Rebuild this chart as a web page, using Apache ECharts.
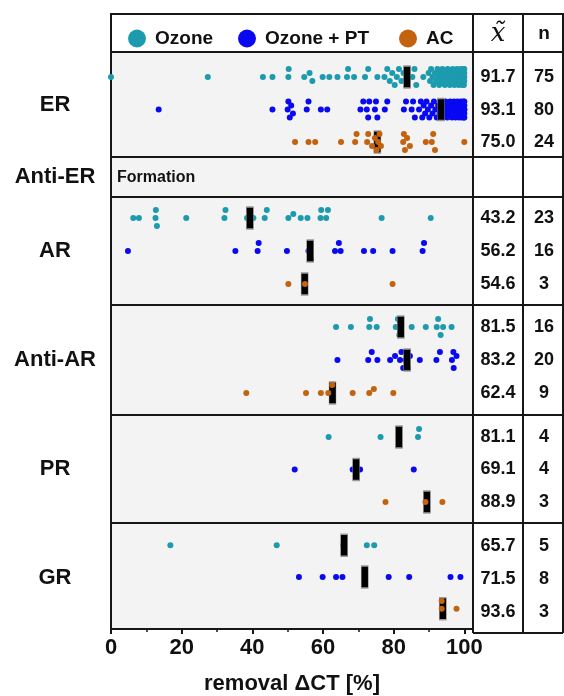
<!DOCTYPE html>
<html><head><meta charset="utf-8">
<script src="https://cdn.jsdelivr.net/npm/echarts@6/dist/echarts.min.js"></script>
<style>html,body{margin:0;padding:0;background:#fff}#c{width:564px;height:696px}</style>
</head><body><div id="c"></div><script>
const categories = ['ER', 'Anti-ER', 'AR', 'Anti-AR', 'PR', 'GR'];
const treatments = ['Ozone', 'Ozone + PT', 'AC'];
const xTicks = [0, 20, 40, 60, 80, 100];
const xMinorTicks = [10, 30, 50, 70, 90];

const er_ozone = [0, 27.4, 43.0, 45.7, 50.2, 50.3, 54.7, 56.2, 57.0, 59.9, 61.8, 64.1, 66.8, 67.1, 68.8, 71.9, 72.8, 75.4, 77.4, 78.2, 78.9, 79.6, 80.3, 80.9, 81.5, 82.2, 82.8, 85.3, 85.9, 86.4, 88.4,
  89.9, 90.3, 90.6, 91.0, 91.3, 91.7, 92.0, 92.4, 92.6, 92.9, 93.3, 93.6, 93.8, 94.1, 94.5, 94.7, 95.0, 95.3, 95.5, 95.9,
  96.2, 96.4, 96.7, 96.9, 97.2, 97.5, 97.7, 97.9, 98.2, 98.4, 98.6, 98.9, 99.0, 99.2, 99.4, 99.5, 99.6, 99.7, 99.8, 99.9, 100, 100, 100, 100];
const er_pt = [13.5, 45.7, 50.0, 50.2, 50.6, 51.0, 51.5, 55.4, 55.9, 59.4, 61.2, 70.6, 71.4, 72.4, 72.8, 73.1, 74.7, 75.0, 75.4, 77.5, 78.2, 82.9, 83.5, 85.1, 85.5, 86.0,
  87.2, 87.7, 88.1, 88.5, 88.9, 89.3, 89.7, 90.1, 90.6, 91.0, 91.4, 91.8, 92.2, 92.6, 93.0, 93.3, 93.6, 93.9, 94.2, 94.5,
  94.7, 95.0, 95.2, 95.5, 95.7, 96.0, 96.2, 96.5, 96.7, 96.9, 97.1, 97.3, 97.5, 97.7, 97.9, 98.1, 98.3, 98.5, 98.7, 98.9,
  99.0, 99.2, 99.3, 99.5, 99.6, 99.7, 99.8, 99.9, 100, 100, 100, 100, 100, 100];
const er_ac = [52.1, 55.9, 57.8, 65.1, 69.1, 69.5, 72.5, 72.8, 73.9, 74.7, 75.2, 75.6, 76.0, 76.4, 82.7, 82.9, 83.2, 83.8, 84.6, 89.1, 90.8, 91.2, 91.7, 100];
const ar_ozone = [6.3, 7.9, 12.6, 12.7, 13.0, 21.3, 32.1, 32.4, 38.5, 39.2, 40.3, 43.5, 44.1, 50.2, 51.6, 53.7, 55.6, 59.3, 59.5, 60.9, 61.4, 76.6, 90.5];
const ar_pt = [4.8, 35.2, 41.5, 41.8, 49.8, 55.9, 56.3, 56.6, 63.4, 64.5, 65.0, 71.6, 74.2, 79.7, 88.2, 88.6];
const ar_ac = [50.2, 54.9, 79.7];
const antiar_ozone = [63.7, 67.9, 73.1, 73.3, 75.2, 80.6, 81.2, 81.6, 82.0, 85.1, 89.1, 92.2, 92.6, 93.3, 94.0, 96.4];
const antiar_pt = [64.1, 72.8, 73.8, 75.4, 79.0, 80.4, 81.8, 82.2, 82.7, 83.4, 83.8, 84.0, 84.6, 87.4, 92.1, 93.1, 96.5, 96.9, 97.0, 97.8];
const antiar_ac = [38.3, 55.2, 59.4, 61.5, 62.6, 68.4, 73.1, 74.4, 79.9];
const pr_ozone = [61.6, 76.3, 86.9, 87.2];
const pr_pt = [52.0, 68.4, 70.5, 85.7];
const pr_ac = [77.7, 89.0, 93.8];
const gr_ozone = [16.8, 46.9, 65.7, 72.4, 74.5];
const gr_pt = [53.2, 59.9, 63.7, 65.5, 78.6, 84.4, 96.1, 98.9];
const gr_ac = [93.6, 93.6, 97.8];

const panelValues = [[er_ozone, er_pt, er_ac], null, [ar_ozone, ar_pt, ar_ac], [antiar_ozone, antiar_pt, antiar_ac], [pr_ozone, pr_pt, pr_ac], [gr_ozone, gr_pt, gr_ac]];
const medianBars = [[83.8, 93.4, 75.4], null, [39.3, 56.4, 54.8], [82.0, 83.8, 62.7], [81.5, 69.4, 89.4], [66.0, 71.8, 93.9]];
const medianLabels = [['91.7', '93.1', '75.0'], null, ['43.2', '56.2', '54.6'], ['81.5', '83.2', '62.4'], ['81.1', '69.1', '88.9'], ['65.7', '71.5', '93.6']];
const nLabels = [['75', '80', '24'], null, ['23', '16', '3'], ['16', '20', '9'], ['4', '4', '3'], ['5', '8', '3']];
const subLabels = [null, 'Formation', null, null, null, null];

// ---- layout / style ----
const colors = ['#1c9bae', '#0808f2', '#c3620f'];
const FONT = "'Liberation Sans', Arial, sans-serif";
const L = 111, R = 473, C1 = 523, C2 = 563, HEAD_TOP = 14, HEAD_BOT = 52, BOTTOM = 633;
const panelTops = [52, 157, 197, 305, 415, 523];
const yRanges = [[-0.77, 2.46], [-0.5, 0.5], [-0.64, 2.64], [-0.67, 2.67], [-0.68, 2.65], [-0.7, 2.64]];
const legendLefts = [123, 233, 394];
const XMAX = 100 * (R - L) / 353.3;
const pxPerX = (R - L) / XMAX;

function swarm(vals, pxPerY) {
  const d = 5.6, steps = [0, -4, 4, -8, 8];
  const placed = [];
  return vals.slice().sort((a, b) => a - b).map(v => {
    const px = v * pxPerX;
    let best = 0, bestD = -1;
    for (const s of steps) {
      let m = Infinity;
      for (const p of placed) m = Math.min(m, Math.hypot(p[0] - px, p[1] - s));
      if (m >= d) { best = s; bestD = m; break; }
      if (m > bestD) { bestD = m; best = s; }
    }
    placed.push([px, best]);
    return [v, best / pxPerY];
  });
}

const grids = [], xAxes = [], yAxes = [], series = [], graphics = [];
const nP = categories.length;
for (let i = 0; i < nP; i++) {
  const top = panelTops[i];
  const bot = i < nP - 1 ? panelTops[i + 1] : BOTTOM;
  const h = bot - top;
  const [ymin, ymax] = yRanges[i];
  const pxPerY = h / (ymax - ymin);
  grids.push({ left: L, top: top, width: R - L, height: h, show: true, backgroundColor: '#f3f3f3', borderColor: '#161616', borderWidth: 2, z: 0 });
  const last = i === nP - 1;
  xAxes.push({
    gridIndex: i, type: 'value', min: 0, max: XMAX, position: 'bottom', splitLine: { show: false },
    axisLine: { show: last, onZero: false, lineStyle: { color: '#161616', width: 2 } },
    axisTick: { show: last, customValues: xTicks, length: 5, lineStyle: { color: '#161616', width: 2 } },
    axisLabel: { show: last, customValues: xTicks, fontFamily: FONT, fontWeight: 'bold', fontSize: 22, color: '#111', margin: 8 },
    name: last ? 'removal ΔCT [%]' : '', nameLocation: 'middle', nameGap: 44,
    nameTextStyle: { fontFamily: FONT, fontWeight: 'bold', fontSize: 22, color: '#111' }
  });
  yAxes.push({ gridIndex: i, type: 'value', inverse: true, min: ymin, max: ymax, show: false });
  const vals = panelValues[i];
  if (vals) {
    for (let t = 0; t < 3; t++) {
      series.push({
        type: 'scatter', name: treatments[t], xAxisIndex: i, yAxisIndex: i, clip: false,
        symbolSize: 6, itemStyle: { color: colors[t], opacity: 1 }, z: t === 2 ? 5 : 2,
        emphasis: { disabled: true }, silent: true,
        data: swarm(vals[t], pxPerY).map(p => [p[0], t + p[1]])
      });
      series.push({
        type: 'scatter', name: 'median', xAxisIndex: i, yAxisIndex: i, clip: false,
        symbol: 'rect', symbolSize: [7, 22], z: t === 2 ? 4 : 3, silent: true,
        itemStyle: { color: '#000', opacity: 1, borderColor: '#9a9a9a', borderWidth: 0.8 },
        emphasis: { disabled: true },
        data: [[medianBars[i][t], t]]
      });
      const rowY = top + (t - ymin) * pxPerY;
      graphics.push({ type: 'text', x: (R + C1) / 2, y: rowY, z: 100, style: { text: medianLabels[i][t], font: `bold 18px ${FONT}`, fill: '#111', align: 'center', verticalAlign: 'middle' } });
      graphics.push({ type: 'text', x: C1 + 21, y: rowY, z: 100, style: { text: nLabels[i][t], font: `bold 18px ${FONT}`, fill: '#111', align: 'center', verticalAlign: 'middle' } });
    }
  }
  if (subLabels[i]) {
    graphics.push({ type: 'text', x: L + 6, y: (top + bot) / 2 + 1, z: 100, style: { text: subLabels[i], font: `bold 16px ${FONT}`, fill: '#111', align: 'left', verticalAlign: 'middle' } });
  }
  graphics.push({ type: 'text', x: 55, y: (top + bot) / 2, z: 100, style: { text: categories[i], font: `bold 22px ${FONT}`, fill: '#111', align: 'center', verticalAlign: 'middle' } });
  graphics.push({ type: 'line', z: 100, shape: { x1: R, y1: top, x2: C2, y2: top }, style: { stroke: '#161616', lineWidth: 2 } });
}
// minor ticks on the bottom axis
xAxes.push({
  gridIndex: nP - 1, type: 'value', min: 0, max: XMAX, position: 'bottom', offset: 0, splitLine: { show: false },
  axisLine: { show: false, onZero: false },
  axisTick: { show: true, customValues: xMinorTicks, length: 3, lineStyle: { color: '#161616', width: 1.5 } },
  axisLabel: { show: false }
});
// table frame and header
graphics.push({ type: 'rect', z: 99, shape: { x: L, y: HEAD_TOP, width: C2 - L, height: HEAD_BOT - HEAD_TOP }, style: { fill: '#fff', stroke: '#161616', lineWidth: 2 } });
graphics.push({ type: 'line', z: 100, shape: { x1: R, y1: HEAD_TOP, x2: R, y2: BOTTOM }, style: { stroke: '#161616', lineWidth: 2 } });
graphics.push({ type: 'line', z: 100, shape: { x1: C1, y1: HEAD_TOP, x2: C1, y2: BOTTOM }, style: { stroke: '#161616', lineWidth: 2 } });
graphics.push({ type: 'line', z: 100, shape: { x1: C2, y1: HEAD_TOP, x2: C2, y2: BOTTOM }, style: { stroke: '#161616', lineWidth: 2 } });
graphics.push({ type: 'line', z: 100, shape: { x1: R, y1: BOTTOM, x2: C2, y2: BOTTOM }, style: { stroke: '#161616', lineWidth: 2 } });
graphics.push({ type: 'text', x: (R + C1) / 2, y: 34, z: 100, style: { text: 'x\u0303', font: `italic 26px 'DejaVu Serif', serif`, fill: '#111', align: 'center', verticalAlign: 'middle' } });
graphics.push({ type: 'text', x: C1 + 21, y: 34, z: 100, style: { text: 'n', font: `bold 19px ${FONT}`, fill: '#111', align: 'center', verticalAlign: 'middle' } });

const legends = treatments.map((name, k) => ({
  data: [name], left: legendLefts[k], top: 24, z: 200, icon: 'circle', itemWidth: 18, itemHeight: 18,
  selectedMode: false,
  textStyle: { fontFamily: FONT, fontWeight: 'bold', fontSize: 19, color: '#111', padding: [0, 0, 0, 4] }
}));

const chart = echarts.init(document.getElementById('c'), null, { renderer: 'canvas' });
chart.setOption({
  animation: false,
  backgroundColor: '#fff',
  grid: grids, xAxis: xAxes, yAxis: yAxes, series: series,
  legend: legends,
  graphic: graphics
});
</script></body></html>
